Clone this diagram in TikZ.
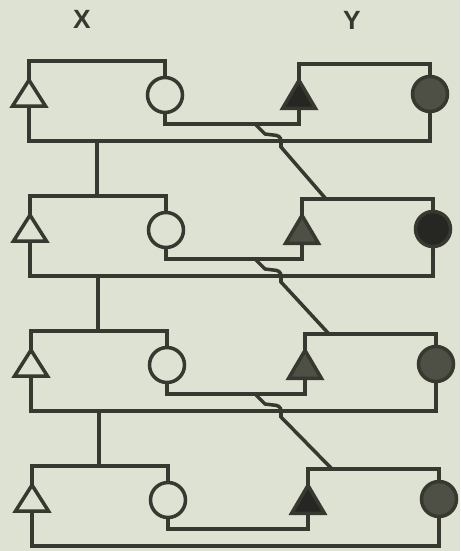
\documentclass[tikz,border=0pt]{standalone}
\usepackage{fontspec}
\setsansfont{Liberation Sans}
\usepackage{tikz}
\usetikzlibrary{shapes.geometric,calc}
\definecolor{paper}{RGB}{222,226,211}
\definecolor{ink}{RGB}{55,57,48}
\definecolor{inkdark}{RGB}{38,38,34}
\definecolor{inkgray}{RGB}{78,80,70}
\tikzset{
  wire/.style={draw=ink,line width=2pt},
  tri/.style={draw=ink,line width=2pt,isosceles triangle,isosceles triangle stretches,shape border rotate=90,minimum width=0.66cm,minimum height=0.52cm,inner sep=0pt,outer sep=0pt},
  cir/.style={draw=ink,line width=2pt,circle,minimum size=0.7cm,inner sep=0pt,outer sep=0pt},
  lbl/.style={font=\sffamily\bfseries\fontsize{15}{17}\selectfont,text=ink},
}

\begin{document}
\begin{tikzpicture}[x=0.02cm,y=-0.02cm]
\fill[paper] (0,0) rectangle (460,551);
\useasboundingbox (0,0) rectangle (460,551);
\node[lbl] (labx) at (82,19) {X};
\node[lbl] (laby) at (352,20) {Y};
% one X/Y pair per row
\foreach \i/\fy/\fc in {0/inkdark/inkgray,1/inkgray/inkdark,2/inkgray/inkgray,3/inkdark/inkgray}{
  \pgfmathsetmacro\yo{61+135*\i}
  \pgfmathsetmacro\dl{\i}
  \pgfmathsetmacro\dr{3*\i}
  \node[tri] (xt\i) at (29+\dl,\yo+36) {};
  \node[cir] (xc\i) at (165+\dl,\yo+34) {};
  \node[tri,fill=\fy,minimum height=0.56cm] (yt\i) at (299+\dr,\yo+38) {};
  \node[cir,fill=\fc] (yc\i) at (430+\dr,\yo+33) {};
  \coordinate (xn\i) at (96+\dl,\yo);
  \coordinate (yn\i) at (323+\dr,\yo+3);
  \coordinate (xi\i) at (165+\dl,\yo+63);
  \coordinate (xo\i) at (29+\dl,\yo+80);
  \coordinate (hs\i) at (255,\yo+63);
  \coordinate (hc\i) at (281,\yo+80);
  \draw[wire] (xt\i.north) -- (xt\i.north |- xn\i) -| (xc\i.north);
  \draw[wire] (yt\i.north) |- (yn\i) -| (yc\i.north);
  \draw[wire] (xc\i.south) -- (xi\i) -| (yt\i.south);
  \draw[wire] (xt\i.south) -- (xo\i) -| (yc\i.south);
}
% links down to the next row, the cross link hops over
\foreach \i/\j in {0/1,1/2,2/3}{
  \draw[wire] (xn\j |- xo\i) -- (xn\j);
  \draw[wire] (hs\i) -- ++(10,10) -- ++(8,1) .. controls +(5,0) and +(0,-4) .. (hc\i) -- ++(0,6) -- (yn\j);
}
\end{tikzpicture}
\end{document}
